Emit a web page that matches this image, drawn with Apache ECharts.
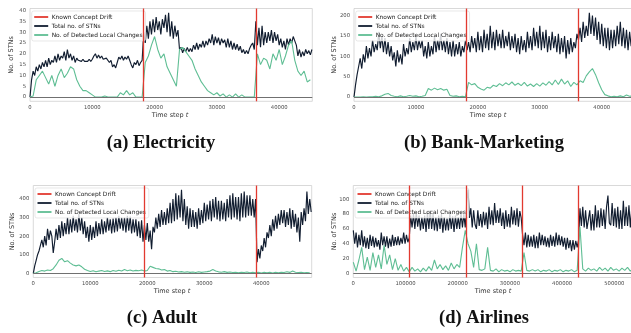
<!DOCTYPE html>
<html><head><meta charset="utf-8">
<script src="https://cdn.jsdelivr.net/npm/echarts@6/dist/echarts.min.js"></script>
<style>html,body{margin:0;padding:0;background:#fff;} #chart{width:631px;height:333px;}</style>
</head><body><div id="chart"></div>
<script>
const seriesNames = ['Known Concept Drift', 'Total no. of STNs', 'No. of Detected Local Changes'];

// (a) Electricity
const elecTotalStep = 250;
const elecLocalStep = 500;
const elecLength = 45312;
const elecDrifts = [18125, 36250];
const elecXTicks = [0, 10000, 20000, 30000, 40000];
const elecYTicks = [0, 5, 10, 15, 20, 25, 30, 35, 40];
const elecTotal = [
  0,8,12,10,14,12,15,13, 16,14,17,14,18,15,17,16, 19,16,20,17,19,18,21,17, 22,18,20,17,19,16,18,17,
  17.5,16.5,17.5,16.5,17,16.5,17.5,16.5, 17.5,19,20,18,19.5,18,19,17.5, 17,18,17.5,16,17,14,15,13.5,
  16,18.5,17.5,19,17,18.5,17.5,19, 17,15,13.5,16,15,17,14.5,16, 17,30,25,33,27,35,29,36,
  30,37,31,35,29,36,32,38, 30,39,28,35,27,33,28,31, 22,23,20.5,22.5,21,23,21,22.5,
  21,24,22,25,22,24.5,23,26, 23,26,24,27,25,29,24,28, 25,27.5,24,27,25,26.5,23,27,
  23,26,22,25,22,24.5,21.5,23.5, 20.5,22,20,21.5,20,22.5,24,25, 22,35,24,32,23,33,24,30,
  25,30,26,31,25,30,26,29, 24,27,23,26,22,27,24,27, 25,28,26,24,19,22,18.5,21, 19,22,20,21.5,19.5,22];
const elecLocal = [0,0.5,8,10,12,9,6,10,5,10, 13,9,11,14,13,8,5,3,3,2, 1,0,0,0,0.5,0,0,0,0,2, 1,3,1,2,0,0,0,16,19,24, 28,22,18,20,14,11,8,5,22,23, 21,19,17,13,10,7,5,3,2,1, 2,0.5,1.5,0,1,0,1.5,0,1,0, 0,0,0,20,15,18,17,13,20,17, 22,15,19,24,26,17,12,10,12,7, 8];

// (b) Bank-Marketing
const bankTotalStep = 250;
const bankLocalStep = 500;
const bankLength = 45211;
const bankDrifts = [18084, 36169];
const bankXTicks = [0, 10000, 20000, 30000, 40000];
const bankYTicks = [0, 50, 100, 150, 200];
const bankTotal = [
  0,30,55,75,95,70,105,85, 125,95,120,100,140,110,130,115, 160,120,150,110,145,105,135,100,
  125,90,110,75,115,85,105,80, 130,100,120,105,145,110,135,115, 150,115,140,120,140,100,125,95,
  135,100,125,105,150,110,140,115, 155,115,140,110,145,105,135,100, 140,100,130,105,135,100,125,110,
  140,115,135,110,150,120,145,110, 160,115,150,110,165,120,155,115, 175,120,160,115,165,125,155,120,
  165,120,150,125,160,115,150,120, 155,110,145,105,150,115,140,110, 160,120,150,115,170,125,160,120,
  175,115,160,120,165,110,150,115, 160,120,150,110,155,105,145,110, 150,95,140,105,145,110,135,120,
  155,140,170,135,185,145,175,150, 207,155,200,150,195,140,185,130, 180,125,170,120,170,115,165,120,
  165,125,175,130,185,125,170,120, 165,115,160,125,160];
const bankLocal = [0,0,0,0.5,0,1,0.5,2,1,3, 7,9,4,2,1,3,1,2,4,2, 3,1,2,4,21,17,22,18,21,17, 19,4,2,3,1,2,1,36,30,33, 24,20,17,24,22,29,26,33,28,35, 30,37,29,34,28,36,27,32,26,33, 27,35,29,38,30,42,31,44,32,40, 26,36,30,40,36,52,62,70,55,35, 18,6,3,1,2,0.5,3,1,5,2, 3];

// (c) Adult
const adultTotalStep = 250;
const adultLocalStep = 500;
const adultLength = 48842;
const adultDrifts = [19537, 39074];
const adultXTicks = [0, 10000, 20000, 30000, 40000];
const adultYTicks = [0, 100, 200, 300, 400];
const adultTotal = [
  0,40,70,100,120,150,180,140, 200,150,240,180,230,200,110,170, 240,180,260,190,280,200,270,210,
  300,210,290,220,310,230,290,220, 320,230,300,210,280,190,250,170, 260,180,250,190,280,200,270,210,
  290,210,280,220,300,230,290,215, 295,220,300,225,310,240,300,230, 300,220,310,230,305,215,290,220,
  290,200,280,190,285,170,260,180, 270,170,230,130,250,220,300,240, 320,250,340,260,330,260,350,270,
  380,270,400,280,430,290,420,300, 450,280,400,260,360,240,350,250, 340,250,330,240,350,260,340,270,
  380,280,370,290,390,280,400,300, 410,290,390,280,390,290,380,280, 400,300,420,290,430,300,410,290,
  410,280,430,300,440,300,420,310, 420,310,400,300,400,60,130,80, 150,120,190,140,220,190,260,200,
  290,230,310,240,320,260,340,270, 340,250,330,260,350,240,340,250, 320,220,300,170,330,260,350,280,
  440,320,400,330];
const adultLocal = [0,3,10,15,12,18,15,25,45,70, 80,62,68,55,45,40,45,35,22,15, 10,14,8,12,15,10,13,9,15,11, 17,12,20,14,18,12,16,14,18,12, 15,38,32,26,24,18,20,12,15,9, 11,7,9,6,8,5,7,4,8,5, 7,9,12,20,13,8,6,9,5,7, 4,6,3,6,4,7,3,5,3,6, 2,5,3,6,2,5,3,6,4,8, 5,12,6,4,5,3,4,3];

// (d) Airlines
const airTotalStep = 2680;
const airLocalStep = 5360;
const airLength = 539383;
const airDrifts = [107877, 215753, 323630, 431506];
const airXTicks = [0, 100000, 200000, 300000, 400000, 500000];
const airYTicks = [0, 20, 40, 60, 80, 100];
const airTotal = [
  58,40,55,35,52,38,58,36, 50,34,48,33,52,37,50,35, 48,36,45,32,55,38,50,36, 50,34,47,36,52,37,49,38,
  50,38,48,40,55,40,52,42, 48,78,62,80,60,82,63,78, 58,76,60,78,56,82,60,85, 60,80,58,76,57,78,60,80,
  55,76,58,74,58,80,60,77, 56,78,60,76,60,82,62,80, 62,95,113,75,88,62,85,66, 60,85,64,80,62,83,65,82,
  60,90,66,85,65,95,68,85, 68,88,64,82,60,85,63,80, 62,90,66,85,65,88,63,84, 75,52,38,55,35,52,36,50,
  36,52,34,50,34,55,38,52, 38,50,36,48,35,52,37,50, 36,55,38,52,38,50,36,48, 32,48,34,45,30,45,32,44,
  35,45,88,64,90,62,85,60, 60,85,58,80,58,92,62,85, 62,88,64,86,60,90,105,68, 65,95,64,88,62,90,60,85,
  60,98,64,90,64,92,62,88, 62,90];
const airLocal = [15,3,18,35,5,22,4,28,8,25, 6,38,12,25,5,20,4,12,3,8, 2,8,3,6,2,7,3,9,4,18, 6,12,5,10,4,14,6,12,8,35, 58,40,30,8,40,5,4,6,35,4, 3,6,2,5,3,4,2,5,3,4, 3,28,4,3,5,3,5,2,4,3, 5,2,4,3,5,2,4,3,5,2, 4,63,6,3,7,4,6,3,8,4, 7,3,8,4,6,3,7,4,8,3, 6];

const RED = '#e23a30', NAVY = '#111d30', GREEN = '#5fbe94', ZERO = '#707070';
const FONT = '"DejaVu Sans", sans-serif';

const panels = [
  {caption:'(a) Electricity', capX:161, capY:143, yNameX:11.5, xNameX:170, left:30, top:8.5, width:282.3, height:92.8,
   tStep:elecTotalStep, lStep:elecLocalStep, len:elecLength, drifts:elecDrifts, xTicks:elecXTicks, yTicks:elecYTicks, total:elecTotal, local:elecLocal},
  {caption:'(b) Bank-Marketing', capX:484, capY:143, yNameX:334, xNameX:488, left:354, top:8.5, width:280, height:92.8,
   tStep:bankTotalStep, lStep:bankLocalStep, len:bankLength, drifts:bankDrifts, xTicks:bankXTicks, yTicks:bankYTicks, total:bankTotal, local:bankLocal},
  {caption:'(c) Adult', capX:162, capY:318.5, yNameX:12.3, xNameX:172, left:33.3, top:185.5, width:278.4, height:92,
   tStep:adultTotalStep, lStep:adultLocalStep, len:adultLength, drifts:adultDrifts, xTicks:adultXTicks, yTicks:adultYTicks, total:adultTotal, local:adultLocal},
  {caption:'(d) Airlines', capX:484, capY:318.5, yNameX:334, xNameX:493, left:353.3, top:185.5, width:281.6, height:92,
   tStep:airTotalStep, lStep:airLocalStep, len:airLength, drifts:airDrifts, xTicks:airXTicks, yTicks:airYTicks, total:airTotal, local:airLocal}
];

const grid = [], xAxis = [], yAxis = [], series = [], legend = [], graphic = [];
panels.forEach((p, k) => {
  grid.push({left:p.left, top:p.top, width:p.width, height:p.height, show:true, borderColor:'#cfcfcf', borderWidth:0.8,
    backgroundColor:'transparent', containLabel:false, outerBoundsMode:'none'});
  const maxV = Math.max(...p.total, ...p.local);
  xAxis.push({type:'value', gridIndex:k, min:0, max:p.len,
    axisLine:{show:false}, axisTick:{show:false}, splitLine:{show:false},
    axisLabel:{customValues:p.xTicks, formatter:v => String(v), fontSize:5.3, color:'#4a4a4a', fontFamily:FONT, margin:3.5}});
  yAxis.push({type:'value', gridIndex:k, min:-0.05*maxV, max:1.05*maxV,
    axisLine:{show:false}, axisTick:{show:false}, splitLine:{show:false},
    axisLabel:{customValues:p.yTicks, formatter:v => String(v), fontSize:5.3, color:'#4a4a4a', fontFamily:FONT, margin:4}});
  series.push({type:'line', name:seriesNames[1], xAxisIndex:k, yAxisIndex:k, symbol:'none', z:2,
    color:NAVY, lineStyle:{color:NAVY, width:1.15},
    data:p.total.map((v, i) => [i * p.tStep, v]),
    markLine:{silent:true, symbol:'none', label:{show:false}, animation:false,
      lineStyle:{color:ZERO, width:1, type:'solid'}, data:[{yAxis:0}]}});
  series.push({type:'line', name:seriesNames[2], xAxisIndex:k, yAxisIndex:k, symbol:'none', z:3,
    color:GREEN, lineStyle:{color:GREEN, width:1.1},
    data:p.local.map((v, i) => [i * p.lStep, v])});
  series.push({type:'line', name:seriesNames[0], xAxisIndex:k, yAxisIndex:k, symbol:'none', z:4,
    color:RED, lineStyle:{color:RED, width:1.3}, data:[],
    markLine:{silent:true, symbol:'none', label:{show:false}, animation:false,
      lineStyle:{color:RED, width:1.3, type:'solid'}, data:p.drifts.map(d => ({xAxis:d}))}});
  legend.push({orient:'vertical', left:p.left + 1.7, top:p.top + 2.5, data:seriesNames,
    icon:'rect', itemWidth:14, itemHeight:1.8, itemGap:3, selectedMode:false,
    textStyle:{fontSize:5.9, color:'#222', fontFamily:FONT, padding:[0,0,0,-1.5]},
    backgroundColor:'rgba(255,255,255,0.8)', borderColor:'#d8d8d8', borderWidth:0.6, borderRadius:2, padding:[3,3,3,2.5]});
  graphic.push({type:'text', x:p.yNameX, y:p.top + p.height / 2, rotation:Math.PI / 2,
    style:{text:'No. of STNs', fontSize:6.5, fontFamily:FONT, fill:'#333', align:'center', verticalAlign:'middle', textAlign:'center', textVerticalAlign:'middle'}});
  graphic.push({type:'text', x:p.xNameX, y:p.top + p.height + 14,
    style:{text:'Time step {i|t}', rich:{i:{fontStyle:'italic', fontSize:6.5, fontFamily:FONT, fill:'#333'}}, fontSize:6.5, fontFamily:FONT, fill:'#333', align:'center', verticalAlign:'middle', textAlign:'center', textVerticalAlign:'middle'}});
  graphic.push({type:'text', x:p.capX, y:p.capY,
    style:{text:p.caption, fontSize:18.5, fontWeight:'bold', fontFamily:'"Liberation Serif", serif', fill:'#111', align:'center', verticalAlign:'middle', textAlign:'center', textVerticalAlign:'middle'}});
});

const chart = echarts.init(document.getElementById('chart'), null, {renderer:'canvas'});
chart.setOption({animation:false, backgroundColor:'#fff', grid, xAxis, yAxis, series, legend, graphic});
</script></body></html>
